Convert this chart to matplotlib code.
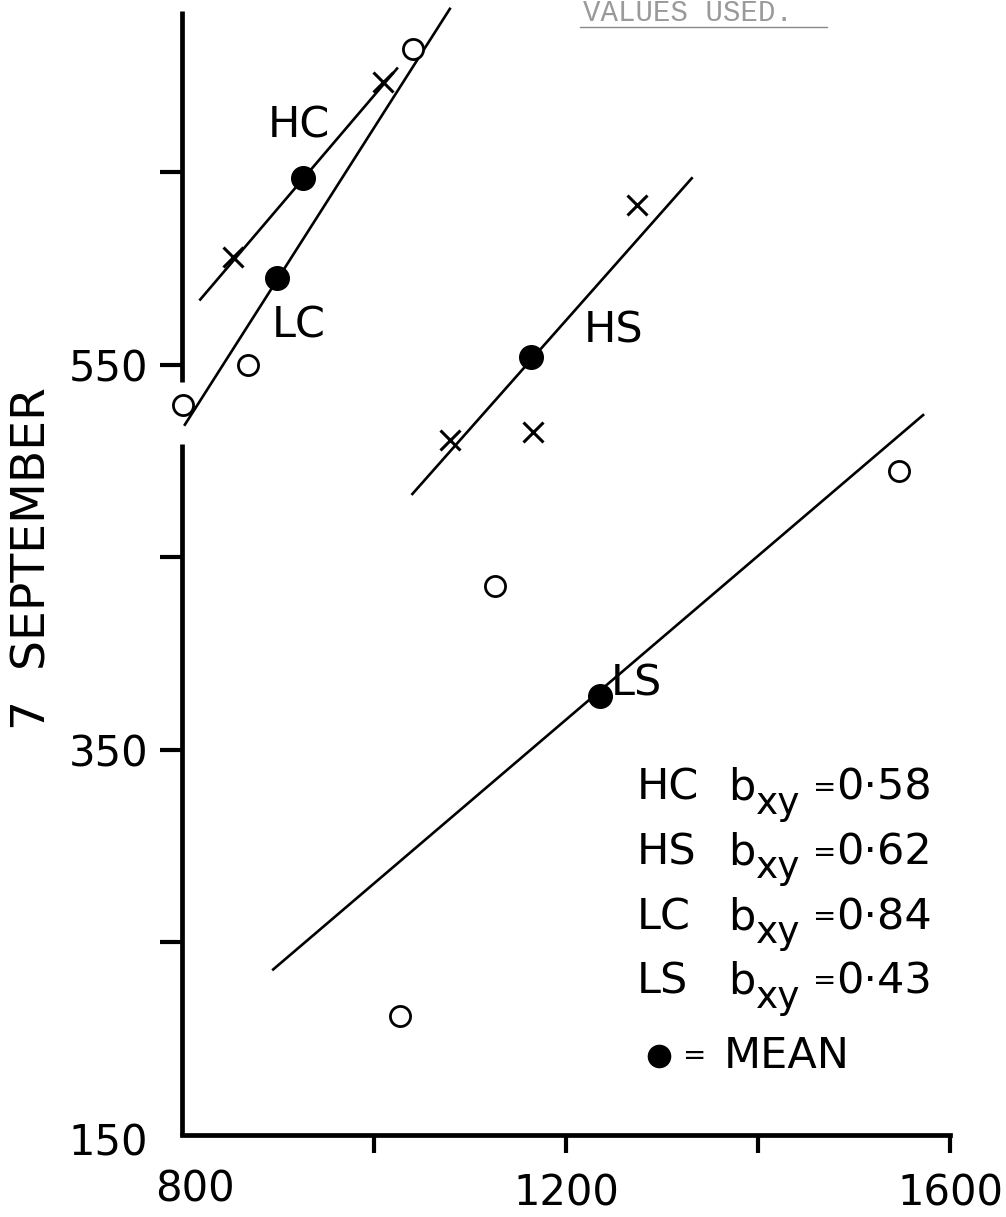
import matplotlib
matplotlib.use("Agg")
import matplotlib.pyplot as plt
from matplotlib.lines import Line2D

# values (x = first date, y = 7 September)
hc_x = [853, 1009]
hc_y = [606, 697]
hc_line_x = [819, 1024]
hc_line_y = [584, 704]

lc_x = [801, 869, 1041]
lc_y = [529, 550, 714]
lc_line_x = [803, 1079]
lc_line_y = [519, 735]

hs_x = [1079, 1166, 1274]
hs_y = [511, 515, 633]
hs_line_x = [1040, 1331]
hs_line_y = [483, 647]

ls_x = [1027, 1126, 1547]
ls_y = [212, 435, 495]
ls_line_x = [895, 1572]
ls_line_y = [236, 524]

mean_names = ["HC", "LC", "HS", "LS"]
mean_x = [926, 899, 1164, 1235]
mean_y = [647, 595, 554, 378]

groups = ["HC", "HS", "LC", "LS"]
slopes = ["0·58", "0·62", "0·84", "0·43"]

x_major = [1200, 1600]
x_minor = [1000, 1400]
y_major = [350, 550]
y_minor = [250, 450, 650]

W, H = 1006, 1217


def fpos(x, y):
    """pixel position on the page -> figure fraction"""
    return x / W, 1 - y / H


fig = plt.figure(figsize=(W / 100, H / 100), dpi=100)
ax = fig.add_axes([182 / W, 1 - 1135 / H, (950 - 182) / W, 1135 / H])
ax.set_xlim(800, 1600)
ax.set_ylim(150, 739.6)

for s in ("top", "right", "left"):
    ax.spines[s].set_visible(False)
ax.spines["bottom"].set_linewidth(3.4)
ax.spines["bottom"].set_capstyle("projecting")

# broken left axis, drawn by hand like the original
for y0, y1 in [(150, 509), (541, 734)]:
    ax.plot([800, 800], [y0, y1], color="black", lw=3.4,
            solid_capstyle="butt", clip_on=False, zorder=4)

line_kw = dict(color="black", lw=1.9, zorder=2)
ax.plot(hc_line_x, hc_line_y, **line_kw)
ax.plot(lc_line_x, lc_line_y, **line_kw)
ax.plot(hs_line_x, hs_line_y, **line_kw)
ax.plot(ls_line_x, ls_line_y, **line_kw)

cross_kw = dict(linestyle="none", marker="x", markersize=15, mec="black",
                mew=2.2, zorder=3, clip_on=False)
circ_kw = dict(linestyle="none", marker="o", markersize=14.5, mfc="white",
               mec="black", mew=2.0, zorder=3, clip_on=False)
ax.plot(hc_x, hc_y, **cross_kw)
ax.plot(hs_x, hs_y, **cross_kw)
ax.plot(lc_x, lc_y, **circ_kw)
ax.plot(ls_x, ls_y, **circ_kw)
ax.plot(mean_x, mean_y, linestyle="none", marker="o", markersize=17,
        color="black", zorder=4)

ax.set_xticks(x_major)
ax.set_xticklabels([str(v) for v in x_major])
ax.set_xticks(x_minor, minor=True)
ax.set_yticks(y_major)
ax.set_yticklabels([str(v) for v in y_major])
ax.set_yticks(y_minor, minor=True)
ax.tick_params(axis="y", which="both", direction="out", length=16, width=3,
               pad=8, labelsize=30)
ax.tick_params(axis="x", which="both", direction="out", length=13, width=3,
               pad=14, labelsize=30)

# corner labels without ticks
fig.text(*fpos(108, 1143), "150", fontsize=30, ha="center", va="center")
fig.text(*fpos(195, 1190), "800", fontsize=30, ha="center", va="center")

fig.text(*fpos(33, 559), "7  SEPTEMBER", fontsize=34, rotation=90,
         ha="center", va="center")

# group labels next to the lines
label_pos = {"HC": (299, 125), "LC": (299, 325), "HS": (614, 331),
             "LS": (636, 684)}
for name, (lx, ly) in label_pos.items():
    fig.text(*fpos(lx, ly), name, fontsize=31, ha="center", va="center")

# key with regression coefficients
for i, (name, b) in enumerate(zip(groups, slopes)):
    base = 800 + i * 64.5
    fig.text(*fpos(637, base), name, fontsize=31, va="baseline")
    fig.text(*fpos(728, base), "b", fontsize=31, va="baseline")
    fig.text(*fpos(756, base + 14), "xy", fontsize=27, va="baseline")
    fig.text(*fpos(813, base - 4), "=", fontsize=20, va="baseline")
    fig.text(*fpos(836, base), b, fontsize=31, va="baseline")

fig.add_artist(Line2D([fpos(659, 1056)[0]], [fpos(659, 1056)[1]],
                      marker="o", markersize=16, color="black",
                      transform=fig.transFigure))
fig.text(*fpos(683, 1064), "=", fontsize=20, va="baseline")
fig.text(*fpos(724, 1068), "MEAN", fontsize=31, va="baseline")

# faint typed heading at the top of the page
fig.text(*fpos(583, 21), "VALUES USED.", fontsize=21, color="#9a9a9a",
         family="Liberation Mono", va="baseline")
fig.add_artist(Line2D([580 / W, 827 / W], [1 - 27 / H, 1 - 27 / H],
                      color="#8a8a8a", lw=1.0, transform=fig.transFigure))

fig.savefig("out.png", dpi=100)
